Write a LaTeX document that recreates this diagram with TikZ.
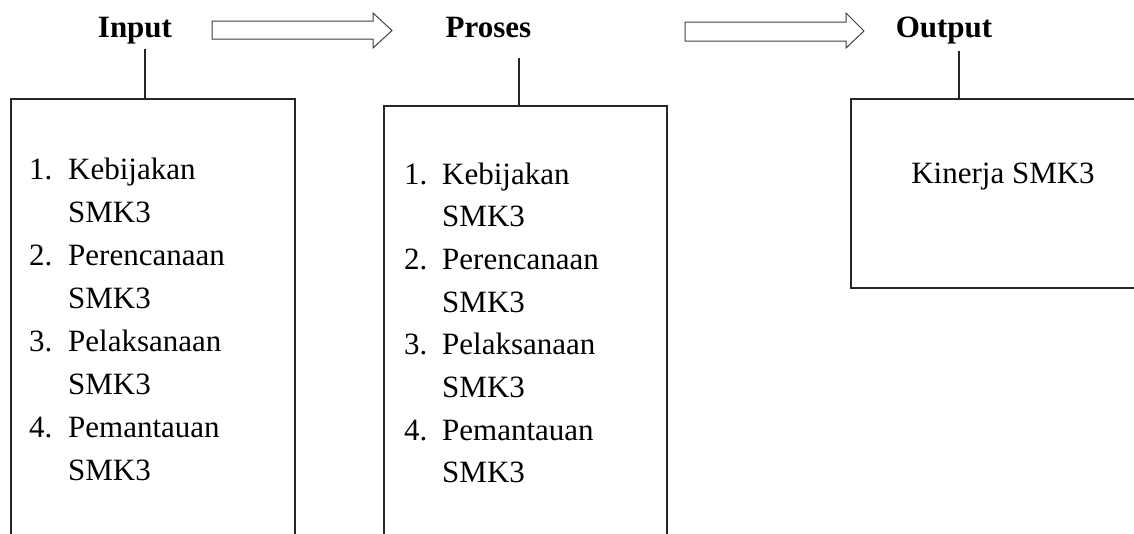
\documentclass[tikz,border=0pt]{standalone}
\usepackage{fontspec}
\setmainfont{Liberation Serif}
\begin{document}
\begin{tikzpicture}[x=1pt,y=-1pt,
  lbl/.style={font=\fontsize{31}{37}\selectfont\bfseries, inner sep=0pt, anchor=base},
  txt/.style={font=\fontsize{31}{37}\selectfont, inner sep=0pt, anchor=base west},
  ctxt/.style={font=\fontsize{31}{37}\selectfont, inner sep=0pt, anchor=base},
  frame/.style={line width=1.1pt, draw=black!85},
  blockarrow/.style={line width=1pt, draw=black!75, fill=white}]
\useasboundingbox (0,0) rectangle (1134,533);
\clip (0,0) rectangle (1134,533);

% header labels
\node[lbl] (in) at (135,37) {Input};
\node[lbl] (pr) at (488.5,37) {Proses};
\node[lbl] (out) at (944,37) {Output};

% block arrows
\draw[blockarrow] (212,21) -- (373,21) -- (373,13) -- (392,30.5) -- (373,48) -- (373,39) -- (212,39) -- cycle;
\draw[blockarrow] (685,22) -- (846,22) -- (846,13) -- (864,31) -- (846,48) -- (846,41) -- (685,41) -- cycle;

% boxes (open at the page edges)
\draw[frame] (11,545) -- (11,99) -- (295,99) -- (295,545);
\draw[frame] (384,545) -- (384,106) -- (667,106) -- (667,545);
\draw[frame] (1145,288) -- (851,288) -- (851,99) -- (1145,99);

% connectors from labels to boxes
\coordinate (inA) at (145,49);  \coordinate (inB) at (145,99);
\coordinate (prA) at (519,58);  \coordinate (prB) at (519,106);
\coordinate (outA) at (959,51); \coordinate (outB) at (959,99);
\draw[frame] (inA) -- (inB);
\draw[frame] (prA) -- (prB);
\draw[frame] (outA) -- (outB);

% box 1 list
\node[txt] (a1n) at (29,179) {1.};  \node[txt] (a1) at (68,179) {Kebijakan};
\node[txt] (a1s) at (68,222) {SMK3};
\node[txt] (a2n) at (29,265) {2.};  \node[txt] (a2) at (68,265) {Perencanaan};
\node[txt] (a2s) at (68,308) {SMK3};
\node[txt] (a3n) at (29,351) {3.};  \node[txt] (a3) at (68,351) {Pelaksanaan};
\node[txt] (a3s) at (68,394) {SMK3};
\node[txt] (a4n) at (29,437) {4.};  \node[txt] (a4) at (68,437) {Pemantauan};
\node[txt] (a4s) at (68,480) {SMK3};

% box 2 list
\node[txt] (b1n) at (404,184) {1.};  \node[txt] (b1) at (442,184) {Kebijakan};
\node[txt] (b1s) at (442,226.7) {SMK3};
\node[txt] (b2n) at (404,269.4) {2.};  \node[txt] (b2) at (442,269.4) {Perencanaan};
\node[txt] (b2s) at (442,312.1) {SMK3};
\node[txt] (b3n) at (404,354.8) {3.};  \node[txt] (b3) at (442,354.8) {Pelaksanaan};
\node[txt] (b3s) at (442,397.5) {SMK3};
\node[txt] (b4n) at (404,440.2) {4.};  \node[txt] (b4) at (442,440.2) {Pemantauan};
\node[txt] (b4s) at (442,482.9) {SMK3};

% box 3
\node[ctxt] (k) at (1003,183) {Kinerja SMK3};
\end{tikzpicture}
\end{document}
